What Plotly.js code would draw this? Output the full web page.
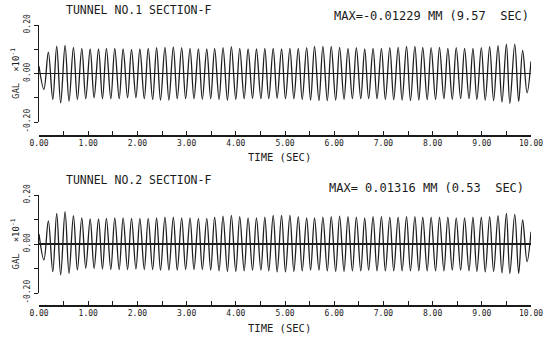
<!DOCTYPE html>
<html>
<head>
<meta charset="utf-8">
<script src="https://cdn.plot.ly/plotly-3.0.1.min.js"></script>
<style>html,body{margin:0;padding:0;background:#fff;}#chart{width:556px;height:337px;}</style>
</head>
<body>
<div id="chart"></div>
<script>
var timeSec = [0.00, 0.10,
  0.19,0.28, 0.36,0.44, 0.53,0.61, 0.70,0.78, 0.87,0.95, 1.04,1.12, 1.21,1.29, 1.37,1.46, 1.54,1.63, 1.71,1.80,
  1.88,1.97, 2.05,2.14, 2.22,2.31, 2.39,2.47, 2.56,2.64, 2.73,2.81, 2.90,2.98, 3.07,3.15, 3.24,3.32, 3.41,3.49,
  3.57,3.66, 3.74,3.83, 3.91,4.00, 4.08,4.17, 4.25,4.34, 4.42,4.51, 4.59,4.67, 4.76,4.84, 4.93,5.01, 5.10,5.18,
  5.27,5.35, 5.44,5.52, 5.60,5.69, 5.77,5.86, 5.94,6.03, 6.11,6.20, 6.28,6.37, 6.45,6.54, 6.62,6.70, 6.79,6.87,
  6.96,7.04, 7.13,7.21, 7.30,7.38, 7.47,7.55, 7.64,7.72, 7.80,7.89, 7.97,8.06, 8.14,8.23, 8.31,8.40, 8.48,8.57,
  8.65,8.74, 8.82,8.90, 8.99,9.07, 9.16,9.24, 9.33,9.41, 9.50,9.57, 9.67,9.75, 9.83,9.92, 10.00];

// Tunnel No.1 Section-F (GAL x10^-1)
var tunnel1 = [0.030, -0.065,
  0.088,-0.107, 0.113,-0.121, 0.116,-0.114, 0.108,-0.107, 0.104,-0.104, 0.101,-0.100, 0.101,-0.104, 0.104,-0.104, 0.104,-0.104, 0.101,-0.100,
  0.099,-0.100, 0.101,-0.104, 0.104,-0.107, 0.107,-0.110, 0.108,-0.110, 0.110,-0.104, 0.107,-0.104, 0.104,-0.104, 0.101,-0.107, 0.101,-0.104,
  0.104,-0.107, 0.107,-0.110, 0.111,-0.107, 0.104,-0.104, 0.101,-0.102, 0.101,-0.104, 0.104,-0.104, 0.104,-0.102, 0.101,-0.104, 0.104,-0.104,
  0.104,-0.107, 0.107,-0.110, 0.112,-0.112, 0.112,-0.112, 0.112,-0.110, 0.108,-0.107, 0.104,-0.104, 0.107,-0.104, 0.101,-0.104, 0.104,-0.104,
  0.104,-0.107, 0.107,-0.108, 0.108,-0.110, 0.112,-0.112, 0.112,-0.110, 0.108,-0.108, 0.107,-0.107, 0.108,-0.104, 0.104,-0.107, 0.107,-0.104,
  0.104,-0.104, 0.104,-0.107, 0.107,-0.110, 0.111,-0.112, 0.115,-0.118, 0.121,-0.123, 0.121,-0.115, 0.095,-0.080, 0.050];

// Tunnel No.2 Section-F (GAL x10^-1)
var tunnel2 = [0.040, -0.065,
  0.094,-0.113, 0.125,-0.126, 0.132,-0.120, 0.116,-0.106, 0.107,-0.099, 0.102,-0.100, 0.102,-0.102, 0.105,-0.104, 0.107,-0.104, 0.107,-0.104,
  0.105,-0.102, 0.105,-0.104, 0.105,-0.104, 0.107,-0.107, 0.110,-0.107, 0.110,-0.107, 0.107,-0.104, 0.107,-0.104, 0.105,-0.104, 0.105,-0.107,
  0.110,-0.110, 0.114,-0.112, 0.117,-0.112, 0.112,-0.110, 0.107,-0.107, 0.107,-0.107, 0.110,-0.110, 0.117,-0.114, 0.117,-0.114, 0.117,-0.112,
  0.112,-0.110, 0.107,-0.107, 0.107,-0.107, 0.110,-0.110, 0.112,-0.112, 0.114,-0.112, 0.112,-0.110, 0.110,-0.110, 0.107,-0.107, 0.112,-0.110,
  0.112,-0.110, 0.110,-0.110, 0.110,-0.110, 0.112,-0.110, 0.112,-0.110, 0.110,-0.110, 0.110,-0.110, 0.110,-0.110, 0.110,-0.107, 0.107,-0.107,
  0.107,-0.110, 0.110,-0.112, 0.110,-0.114, 0.112,-0.112, 0.116,-0.118, 0.125,-0.120, 0.121,-0.120, 0.098,-0.072, 0.050];

var xTickVals = [0,1,2,3,4,5,6,7,8,9,10];
var xTickText = ['0.00','1.00','2.00','3.00','4.00','5.00','6.00','7.00','8.00','9.00','10.00'];
var xMinorStep = 0.5;
var yTickVals = [-0.2,0,0.2];
var yTickText = ['-0.20','0.00','0.20'];
var yMinorStep = 0.1;

var titles = ['TUNNEL NO.1 SECTION-F', 'TUNNEL NO.2 SECTION-F'];
var maxNotes = ['MAX=-0.01229 MM (9.57  SEC)', 'MAX= 0.01316 MM (0.53  SEC)'];
var xTitle = 'TIME (SEC)';
var yTitle = 'GAL  \u00d710<sup>-1</sup>';

var W = 556, H = 337;
function px(x){return x/W;}
function py(y){return 1 - y/H;}

var mono = 'DejaVu Sans Mono, Liberation Mono, monospace';
var ink = '#1a1a1a';

var traces = [
  {x: timeSec, y: tunnel1, xaxis:'x', yaxis:'y', type:'scatter', mode:'lines',
   line:{color:'#1e1e1e', width:1.3, shape:'spline', smoothing:1}, hoverinfo:'skip'},
  {x: timeSec, y: tunnel2, xaxis:'x2', yaxis:'y2', type:'scatter', mode:'lines',
   line:{color:'#1e1e1e', width:1.3, shape:'spline', smoothing:1}, hoverinfo:'skip'}
];

function xa(pos){
  return {domain:[px(39), px(531)], range:[0,10], anchor:'free', position:pos,
    showline:true, linecolor:ink, linewidth:1.5, ticks:'inside', ticklen:4, tickwidth:1, tickcolor:ink,
    tickmode:'array', tickvals:xTickVals, ticktext:xTickText, tickfont:{family:mono, size:8, color:ink},
    minor:{tickmode:'linear', tick0:0, dtick:xMinorStep, ticks:'inside', ticklen:4, tickwidth:1, tickcolor:ink, showgrid:false},
    showgrid:false, zeroline:false, automargin:false, fixedrange:true};
}
function ya(anchor, top, bottom){
  return {domain:[py(bottom), py(top)], range:[-0.2,0.2], anchor:anchor,
    title:{text:yTitle, font:{family:mono, size:9, color:ink}, standoff:2},
    showline:true, linecolor:ink, linewidth:1.5, ticks:'outside', ticklen:4, tickwidth:1, tickcolor:ink,
    tickmode:'array', tickvals:yTickVals, ticktext:yTickText, tickangle:-90, tickfont:{family:mono, size:8, color:ink},
    minor:{tickmode:'linear', tick0:0, dtick:yMinorStep, ticks:'outside', ticklen:4, tickwidth:1, tickcolor:ink, showgrid:false},
    showgrid:false, zeroline:true, zerolinecolor:ink, zerolinewidth:1.6, automargin:false, fixedrange:true};
}

function ann(text, x, y, xanchor, size){
  return {text:text, x:px(x), y:py(y), xref:'paper', yref:'paper', xanchor:xanchor, yanchor:'middle',
    showarrow:false, font:{family:mono, size:size, color:ink}};
}

var layout = {
  width:W, height:H, margin:{l:0,r:0,t:0,b:0}, paper_bgcolor:'#fff', plot_bgcolor:'#fff', showlegend:false,
  xaxis: xa(py(135)),
  yaxis: ya('x', 25, 122),
  xaxis2: xa(py(305)),
  yaxis2: ya('x2', 195, 293),
  annotations:[
    ann(titles[0], 138, 9.5, 'center', 11.5),
    ann(maxNotes[0], 531, 16, 'right', 12),
    ann(xTitle, 279, 157, 'center', 10.5),
    ann(titles[1], 138, 180, 'center', 11.5),
    ann(maxNotes[1], 526, 188, 'right', 12),
    ann(xTitle, 279, 328, 'center', 10.5)
  ]
};

Plotly.newPlot('chart', traces, layout, {staticPlot:true, displayModeBar:false});
</script>
</body>
</html>
